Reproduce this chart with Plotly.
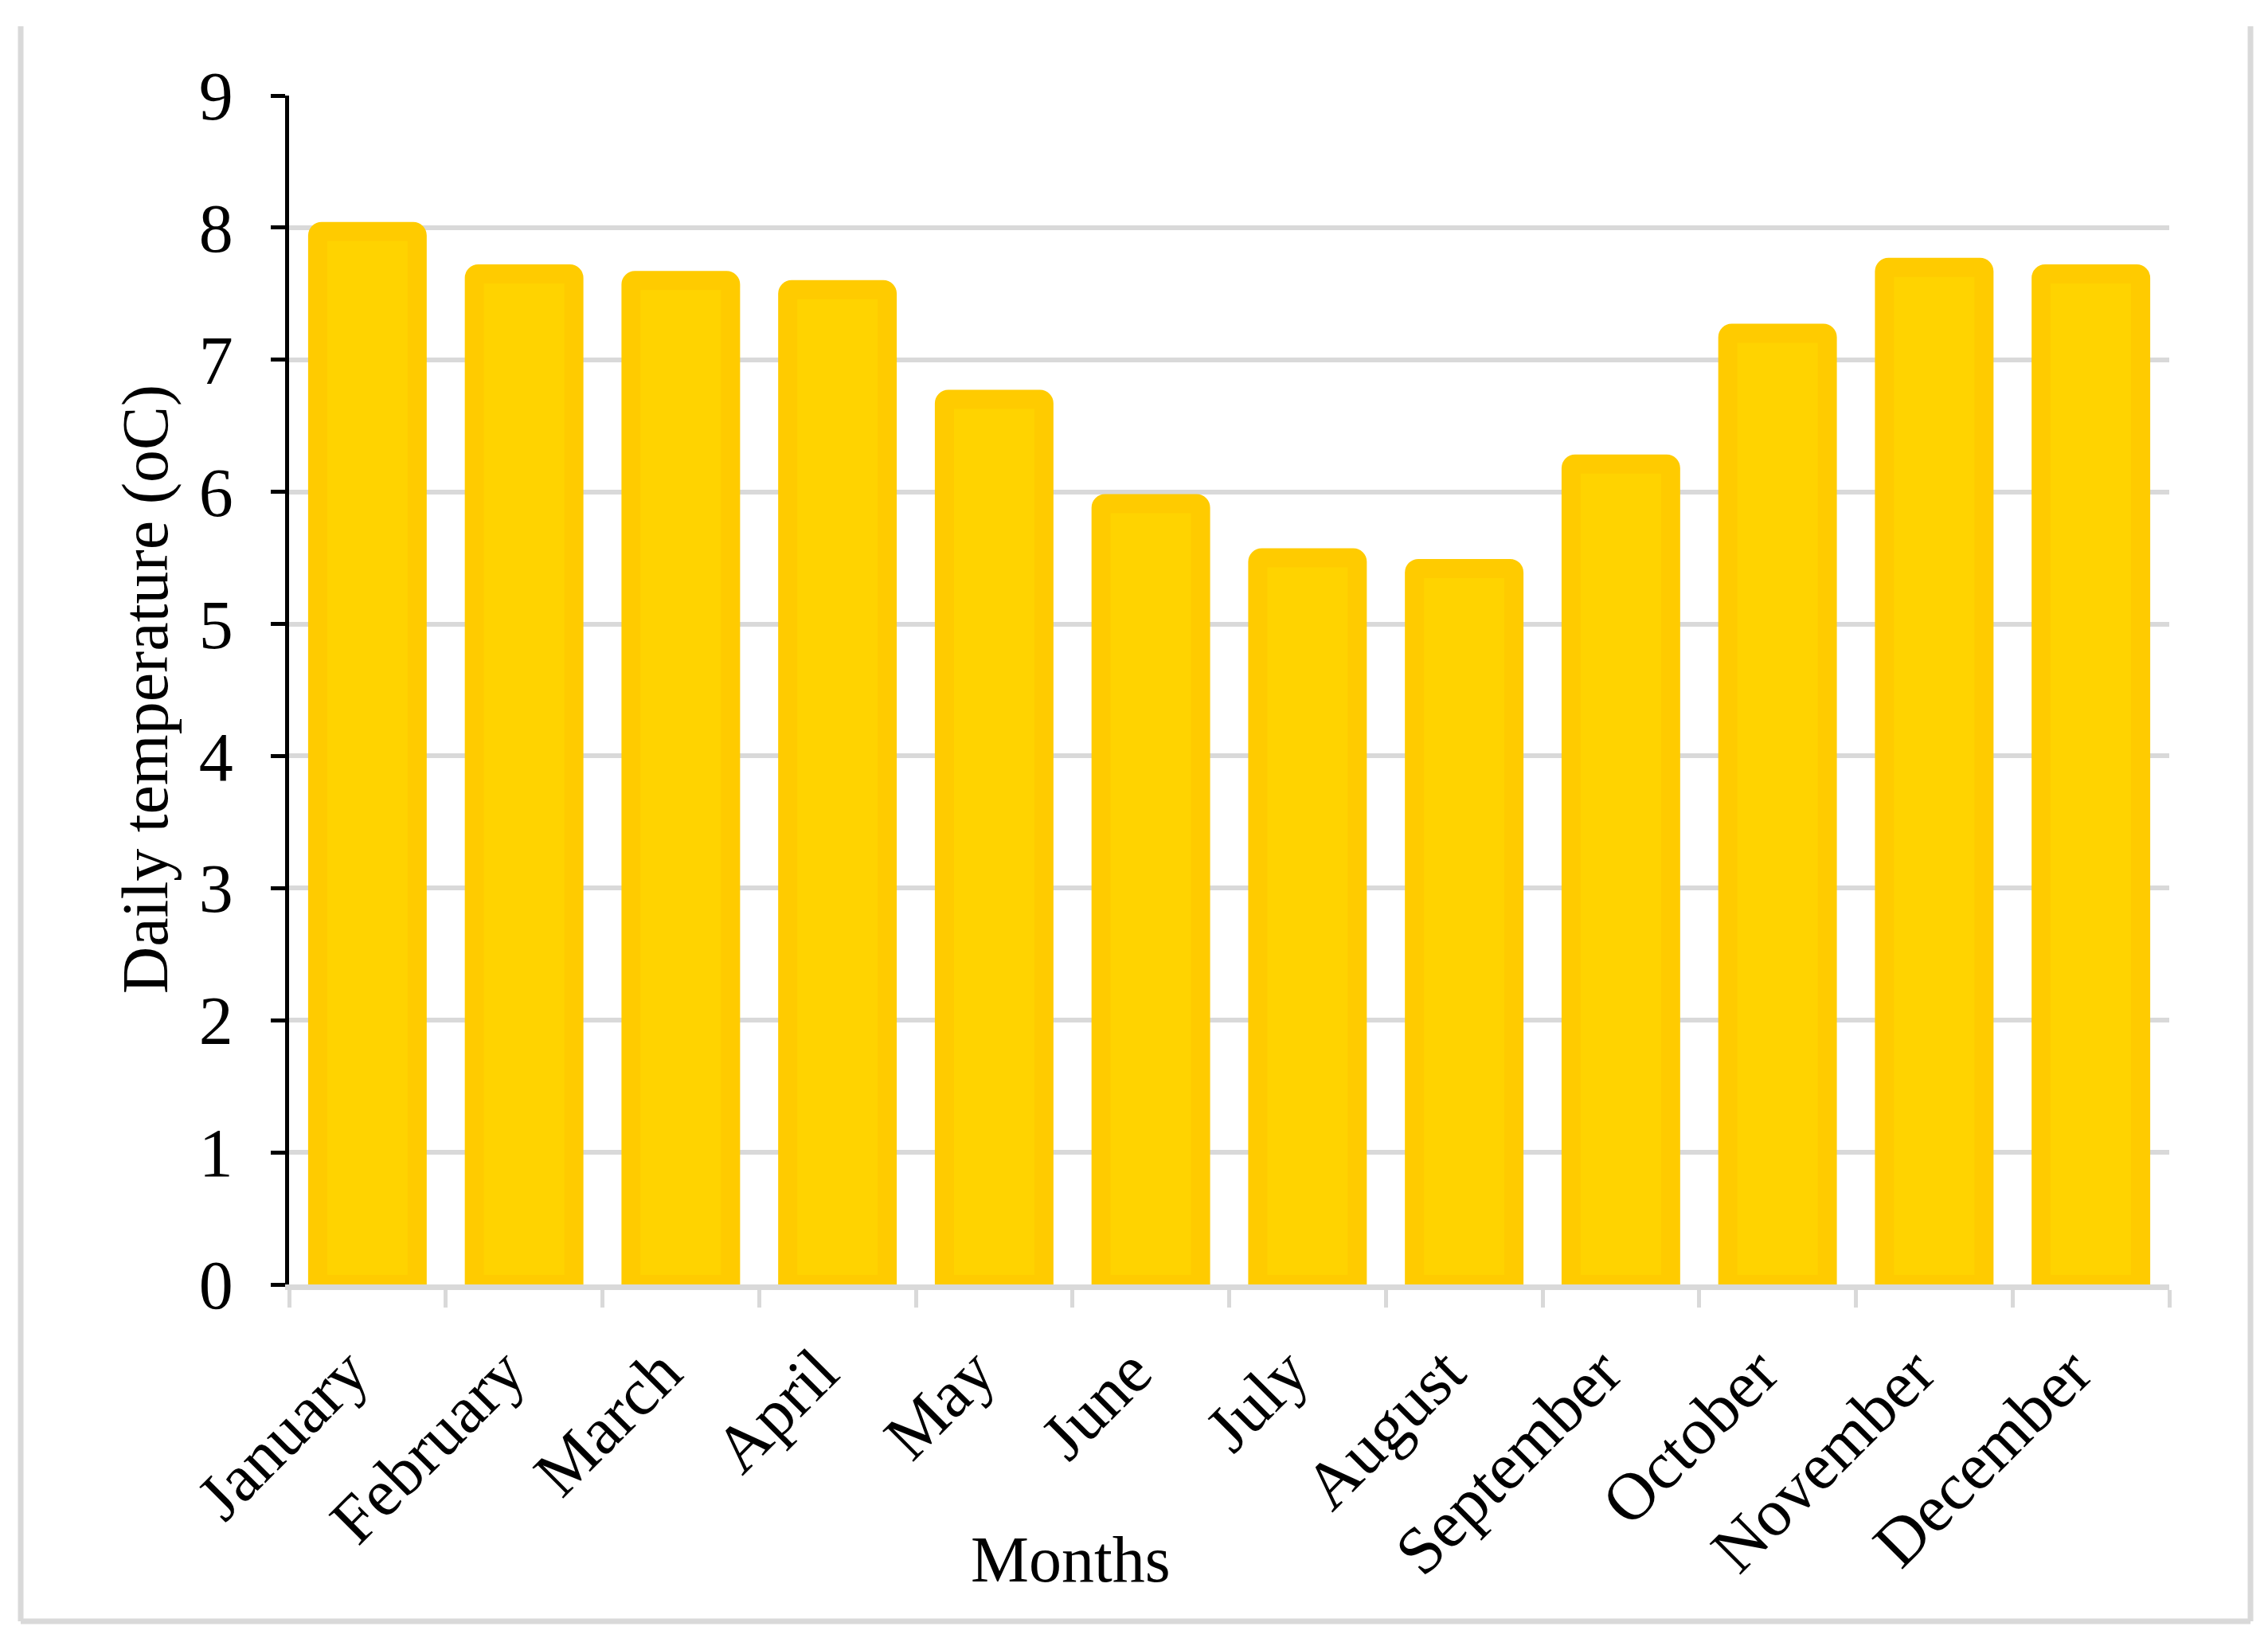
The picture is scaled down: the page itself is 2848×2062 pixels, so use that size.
import plotly.graph_objects as go

months = ["January", "February", "March", "April", "May", "June", "July",
          "August", "September", "October", "November", "December"]
temps = [7.97, 7.65, 7.60, 7.53, 6.70, 5.91, 5.50, 5.42, 6.21, 7.20, 7.70, 7.65]
y_ticks = [0, 1, 2, 3, 4, 5, 6, 7, 8, 9]

W, H = 2848, 2062
L, R, T, B = 363, 124, 120, 449
pw, ph = W - L - R, H - T - B

def px2x(px):
    return (px - L) / pw

def py2y(py):
    return (H - B - py) / ph

FONT = "Liberation Serif, Times New Roman, serif"

fig = go.Figure()
fig.add_trace(go.Bar(
    x=months, y=temps, width=0.635,
    marker=dict(color="#FFD300", line=dict(color="#FFCB00", width=24), cornerradius=5),
))

fig.update_layout(
    width=W, height=H,
    margin=dict(l=L, r=R, t=T, b=B, autoexpand=False),
    paper_bgcolor="white", plot_bgcolor="white",
    showlegend=False,
    font=dict(family=FONT, color="black"),
)
fig.update_yaxes(
    range=[0, 9], tickvals=y_ticks, ticktext=[str(v) for v in y_ticks],
    automargin=False,
    showgrid=True, gridcolor="#D9D9D9", gridwidth=6,
    zeroline=False,
    showline=True, linecolor="black", linewidth=5,
    ticks="outside", ticklen=18, tickwidth=5, tickcolor="black",
    tickfont=dict(family=FONT, size=86, color="black"),
    ticklabelstandoff=30,
    layer="above traces",
)
fig.update_xaxes(
    range=[-0.5, 11.5],
    automargin=False,
    showgrid=False, zeroline=False,
    showline=True, linecolor="#D9D9D9", linewidth=7,
    ticks="outside", tickson="boundaries", ticklen=22, tickwidth=5, tickcolor="#D9D9D9",
    tickangle=-45,
    tickfont=dict(family=FONT, size=84, color="black"),
    ticklabelstandoff=20, ticklabelshift=-24,
    layer="above traces",
)

# axis titles
fig.add_annotation(text="Daily temperature (oC)", xref="paper", yref="paper",
                   x=px2x(182), y=py2y(866), textangle=-90, showarrow=False,
                   xanchor="center", yanchor="middle",
                   font=dict(family=FONT, size=82, color="black"))
fig.add_annotation(text="Months", xref="paper", yref="paper",
                   x=px2x(1344), y=py2y(1958), showarrow=False,
                   xanchor="center", yanchor="middle",
                   font=dict(family=FONT, size=82, color="black"))

# outer frame (left, right, bottom)
fx0, fx1 = px2x(26), px2x(2826)
fy0, fy1 = py2y(2036), py2y(33)
for x0, y0, x1, y1 in [(fx0, fy0, fx0, fy1), (fx1, fy0, fx1, fy1), (fx0, fy0, fx1, fy0)]:
    fig.add_shape(type="line", xref="paper", yref="paper", x0=x0, y0=y0, x1=x1, y1=y1,
                  line=dict(color="#D9D9D9", width=7))

fig.write_html("out.html", config={"displayModeBar": False},
               post_script="document.body.style.margin='0';")
